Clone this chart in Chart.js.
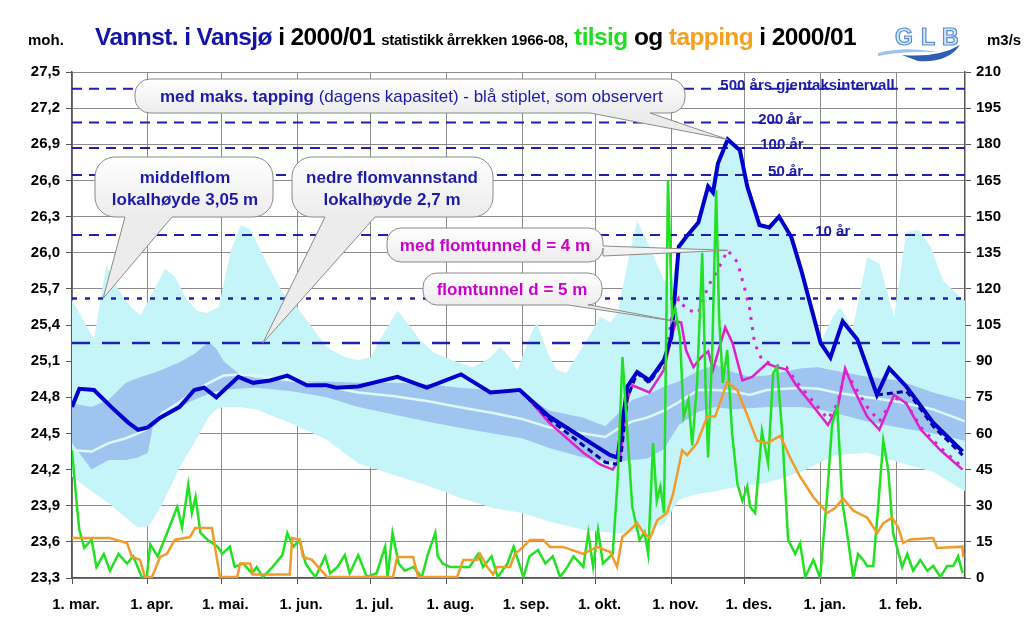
<!DOCTYPE html>
<html>
<head>
<meta charset="utf-8">
<script src="https://cdn.jsdelivr.net/npm/chart.js@4.4.1/dist/chart.umd.min.js"></script>
<style>
  body { margin: 0; background: #fff; }
  #wrap { position: relative; width: 1024px; height: 636px; }
  .lbl { position: absolute; font-family: "Liberation Sans", Arial, sans-serif; font-weight: bold; white-space: nowrap; }
</style>
</head>
<body>
<div id="wrap">
  <canvas id="chart" width="1024" height="636"></canvas>
  <div class="lbl" style="left:28px;top:31px;font-size:15px;">moh.</div>
  <div class="lbl" style="left:95px;top:23px;font-size:24.5px;letter-spacing:-0.6px;">
    <span style="color:#1414a8">Vannst. i Vansjø</span> i 2000/01 <span style="font-size:15px;letter-spacing:-0.3px">statistikk årrekken 1966-08,</span>
    <span style="color:#22dd22">tilsig</span> og <span style="color:#f5a020">tapping</span> i 2000/01
  </div>
  <div class="lbl" style="left:987px;top:31px;font-size:15px;">m3/s</div>
</div>
<script>
// x = days after 1. mars
const monthStarts = [0, 31, 61, 92, 122, 153, 184, 214, 245, 275, 306, 337];
const monthLabels = ["1. mar.", "1. apr.", "1. mai.", "1. jun.", "1. jul.", "1. aug.", "1. sep.", "1. okt.", "1. nov.", "1. des.", "1. jan.", "1. feb."];
const levelTicks = [23.3, 23.6, 23.9, 24.2, 24.5, 24.8, 25.1, 25.4, 25.7, 26.0, 26.3, 26.6, 26.9, 27.2, 27.5];
const flowTicks = [0, 15, 30, 45, 60, 75, 90, 105, 120, 135, 150, 165, 180, 195, 210];

const returnLevels = [27.36, 27.08, 26.87, 26.645, 26.147];
const returnLabels = ["500 års gjentaksintervall", "200 år", "100 år", "50 år", "10 år"];
const middelflom = 25.62;
const nedreFlomvannstand = 25.25;

// statistics 1966-08
const bandDays = [0, 8, 15, 22, 27, 31, 33, 37, 44, 50, 56, 59, 62, 68, 75, 90, 104, 117, 131, 145, 158, 172, 184, 195, 209, 218, 224, 229, 235, 242, 248, 256, 263, 270, 277, 284, 298, 305, 312, 325, 338, 352, 365];
const bandMin = [24.14, 24.02, 23.92, 23.80, 23.72, 23.73, 23.78, 23.92, 24.22, 24.42, 24.64, 24.70, 24.72, 24.72, 24.70, 24.58, 24.45, 24.25, 24.16, 24.07, 23.97, 23.88, 23.84, 23.77, 23.70, 23.68, 23.67, 23.68, 23.70, 23.75, 23.95, 24.00, 24.02, 24.05, 24.07, 24.09, 24.18, 24.25, 24.32, 24.34, 24.26, 24.18, 24.02];
const bandLow = [24.42, 24.20, 24.28, 24.28, 24.30, 24.34, 24.55, 24.63, 24.72, 24.78, 24.83, 24.85, 24.86, 24.87, 24.88, 24.85, 24.80, 24.72, 24.66, 24.60, 24.55, 24.50, 24.46, 24.38, 24.30, 24.27, 24.27, 24.28, 24.29, 24.37, 24.57, 24.68, 24.72, 24.70, 24.71, 24.72, 24.72, 24.70, 24.67, 24.60, 24.55, 24.50, 24.44];
const bandMedian = [24.36, 24.35, 24.42, 24.46, 24.50, 24.54, 24.58, 24.67, 24.76, 24.85, 24.92, 24.95, 24.98, 24.99, 24.98, 24.94, 24.89, 24.84, 24.81, 24.77, 24.72, 24.67, 24.62, 24.55, 24.50, 24.47, 24.55, 24.60, 24.63, 24.69, 24.76, 24.86, 24.86, 24.85, 24.82, 24.86, 24.88, 24.87, 24.84, 24.80, 24.76, 24.70, 24.60];
const bandHigh = [24.75, 24.72, 24.78, 24.92, 24.96, 24.99, 25.00, 25.03, 25.09, 25.16, 25.26, 25.20, 25.10, 25.00, 24.96, 24.93, 24.93, 24.92, 24.92, 24.91, 24.88, 24.86, 24.83, 24.69, 24.63, 24.56, 24.68, 24.78, 24.82, 24.89, 24.93, 25.02, 25.07, 25.01, 24.97, 24.98, 25.04, 25.05, 25.02, 24.97, 24.94, 24.84, 24.77];
const maxDays = [0, 9, 14, 19, 24, 28, 33, 38, 42, 47, 51, 55, 60, 65, 69, 73, 77, 81, 86, 92, 96, 100, 104, 108, 112, 117, 122, 126, 133, 137, 142, 148, 155, 164, 171, 175, 179, 182, 187, 190, 194, 198, 202, 206, 212, 216, 220, 223, 227, 231, 236, 242, 245, 248, 251, 256, 260, 264, 268, 273, 276, 281, 285, 289, 294, 298, 306, 311, 314, 319, 325, 330, 336, 341, 346, 351, 356, 363, 365];
const bandMax = [25.61, 25.28, 25.90, 25.69, 25.55, 25.48, 25.67, 25.87, 25.80, 25.61, 25.52, 25.50, 25.55, 26.02, 26.23, 26.19, 26.02, 25.86, 25.67, 25.55, 25.44, 25.33, 25.22, 25.17, 25.13, 25.11, 25.13, 25.28, 25.52, 25.42, 25.28, 25.17, 25.11, 25.05, 25.13, 25.22, 25.13, 25.02, 25.30, 25.42, 25.19, 25.03, 25.00, 25.13, 25.33, 25.47, 25.42, 25.50, 25.90, 26.27, 26.05, 25.77, 25.75, 26.05, 26.13, 26.25, 26.55, 26.74, 26.94, 26.85, 26.55, 26.23, 26.21, 26.30, 26.13, 25.86, 25.25, 25.47, 25.55, 25.36, 25.96, 25.91, 25.47, 26.17, 26.19, 26.05, 25.77, 25.63, 25.60];

// 2000/01
const obsDays = [0, 3, 9, 16, 23, 27, 31, 36, 44, 50, 54, 59, 68, 74, 81, 88, 96, 104, 108, 117, 133, 145, 159, 171, 183, 195, 209, 220, 223, 227, 231, 236, 242, 245, 248, 251, 256, 260, 262, 264, 268, 273, 276, 281, 285, 289, 294, 298, 306, 310, 315, 321, 329, 334, 341, 352, 364];
const obsLevel = [24.72, 24.87, 24.86, 24.72, 24.59, 24.53, 24.55, 24.63, 24.72, 24.86, 24.88, 24.80, 24.97, 24.92, 24.94, 24.98, 24.90, 24.90, 24.88, 24.89, 24.97, 24.88, 24.99, 24.84, 24.86, 24.64, 24.46, 24.32, 24.30, 24.89, 25.01, 24.94, 25.11, 25.30, 26.05, 26.13, 26.25, 26.55, 26.50, 26.74, 26.94, 26.85, 26.55, 26.23, 26.21, 26.30, 26.13, 25.86, 25.25, 25.13, 25.43, 25.28, 24.82, 25.04, 24.89, 24.59, 24.35];
const maksAutumnDays = [183, 195, 209, 218, 224, 227, 231, 236, 242];
const maksAutumnLevel = [24.86, 24.62, 24.40, 24.26, 24.24, 24.80, 25.00, 24.92, 25.10];
const maksWinterDays = [329, 341, 344, 352, 360, 364];
const maksWinterLevel = [24.82, 24.85, 24.78, 24.56, 24.40, 24.32];
const tunnel5Days = [183, 186, 195, 209, 216, 221, 224, 227, 229, 236, 242, 245, 247, 249, 251, 254, 257, 260, 262, 267, 270, 274, 278, 284, 288, 292, 296, 300, 309, 313, 316, 319, 325, 330, 336, 341, 347, 355, 364];
const tunnel5Level = [24.86, 24.80, 24.59, 24.34, 24.24, 24.20, 24.30, 24.78, 24.90, 24.84, 25.03, 25.30, 25.43, 25.42, 25.19, 25.05, 25.13, 25.18, 25.03, 25.38, 25.25, 24.94, 24.97, 25.08, 25.05, 25.03, 24.90, 24.80, 24.57, 24.72, 25.04, 24.89, 24.64, 24.53, 24.82, 24.75, 24.53, 24.36, 24.20];
const tunnel4Days = [242, 245, 248, 251, 256, 260, 264, 268, 272, 275, 277, 279, 282, 288, 292, 296, 309, 313, 316, 319, 325, 330, 336, 341, 347, 355, 364];
const tunnel4Level = [25.03, 25.45, 25.62, 25.53, 25.50, 25.72, 25.86, 26.02, 25.92, 25.70, 25.53, 25.25, 25.11, 25.06, 25.05, 24.93, 24.62, 24.75, 25.02, 24.92, 24.72, 24.60, 24.80, 24.75, 24.55, 24.38, 24.22];

const tilsigDays = [0, 2, 3, 5, 8, 10, 13, 15.5, 19, 22.5, 25, 28.5, 30.5, 32, 35, 39, 43, 45, 47.5, 49, 50.5, 52.5, 55.5, 59.5, 61.5, 64.5, 66.5, 70, 73.5, 75.5, 78, 82, 86, 88, 90.5, 93, 95.5, 97.5, 99.5, 103.5, 105.5, 108.5, 111.5, 113.5, 117, 120.5, 124.5, 128, 129, 131, 133.5, 136, 139.5, 143, 145.5, 148.5, 149.5, 151.5, 154.5, 158.5, 162.5, 166, 168, 171.5, 174, 178, 180.5, 184.5, 187, 190.5, 193.5, 196.5, 199.5, 202.5, 205, 209, 211, 213, 215, 217, 221, 223, 225, 227, 229, 232, 234, 235.5, 237.5, 239, 240.5, 242, 243.6, 245.3, 246.5, 248.5, 250, 252, 253.5, 255.5, 257.6, 259, 260, 261.7, 263.3, 264.5, 266, 267.8, 269.8, 272, 274, 276, 277.2, 279.2, 282, 283.3, 284.5, 286.6, 288.2, 290.3, 292.7, 295.6, 297.6, 299.7, 303, 305.8, 308.7, 310.7, 312.8, 314.8, 316.8, 319.3, 321.3, 323.4, 325, 327.5, 329.5, 331.6, 333.6, 335.6, 339.3, 341.4, 343.8, 346.7, 349.6, 352, 354.9, 357.7, 360.2, 362.2, 364];
const tilsigFlow = [53, 30, 20, 12.5, 16, 4.5, 10, 3, 10, 6, 9, 0.5, 0, 14, 9, 19, 29.5, 21, 38.6, 27, 33.6, 18.7, 15.8, 13, 10, 13, 4.6, 6, 2, 4.6, 0.4, 4.6, 9.5, 18.7, 13, 15.8, 6, 3, 0.4, 9, 2, 4.6, 9.5, 2, 9.5, 0.4, 2, 13, 0.4, 18.7, 6, 3, 4.6, 0.4, 10, 18.7, 9, 6, 4.6, 4.6, 4.6, 10, 4.6, 9, 0.4, 6, 13, 0.4, 9, 11.6, 6, 9, 0.4, 4.6, 9, 4.6, 18.7, 4.6, 20, 6, 10, 40, 91.7, 60, 29.5, 15.8, 19, 10, 56, 32, 38, 27, 165, 108, 112, 100, 67, 74, 55, 81, 135, 78, 50, 95, 161, 108, 81, 94.6, 60, 39, 32, 38, 29.5, 27, 61, 54, 47.7, 85, 87.6, 60, 15.8, 10, 14.5, 0.4, 7.5, 0, 35, 64, 71, 32, 18.7, 0.4, 10, 7.5, 5, 5, 29.5, 57, 45, 18.7, 4.6, 10, 3, 7.5, 3, 5, 0.4, 5, 5, 9, 2];
const tappingDays = [0, 15.5, 22.5, 24.5, 27.8, 29.8, 32.7, 36, 38.8, 42, 48.2, 50.3, 57.2, 59.3, 60.5, 67.5, 68.7, 72.8, 74, 89, 90, 93.2, 94.4, 98.1, 100.6, 104.3, 131.2, 132.9, 139.4, 141.5, 157.4, 159.9, 165.6, 166.8, 169.7, 172.1, 173.8, 179, 181.1, 184.4, 187.2, 192.6, 195.4, 200.7, 208.9, 214.6, 220, 222.8, 224.9, 226.9, 231, 233.4, 236.3, 239.2, 243.2, 245.7, 249.4, 251.4, 255.5, 259.6, 262.9, 267.8, 271.9, 276, 280, 284.1, 289.5, 293.5, 297.6, 303, 308.7, 311.9, 315.2, 319.3, 325, 329.1, 331.6, 335.2, 337.7, 339.7, 342.6, 352, 353.6, 363.9, 364.3];
const tappingFlow = [16.6, 16.6, 14.5, 8.7, 7.5, 0.4, 0.4, 8.7, 10, 15.8, 17, 20.7, 20.7, 7.5, 0.4, 0.4, 6, 6, 1.5, 1.5, 16.6, 15.8, 8.7, 7.5, 4.6, 0.4, 0.4, 8.7, 8.7, 0.4, 0.4, 7.5, 7.5, 10, 4.6, 1.5, 4.6, 4.6, 10, 12.9, 15.8, 15.8, 12.9, 12.9, 10, 12.9, 10.8, 4.6, 17, 18.7, 22.8, 19, 16.6, 24, 27, 35, 53, 51, 56, 67, 67, 81.3, 78, 67.6, 57, 56, 59, 50, 42, 33.6, 27, 29, 33, 28, 25, 18.7, 22.8, 25, 21, 14.5, 16, 16.6, 12.5, 13, 8.7];

const FONT = '"Liberation Sans", Arial, sans-serif';
const NAVY = "#1c1ca8";
const pts = (xs, ys) => xs.map((x, i) => ({ x, y: ys[i] }));
const flat = v => [{ x: 0, y: v }, { x: 365, y: v }];

const line = (data, color, width, order, extra) => Object.assign({
  data, borderColor: color, borderWidth: width, pointRadius: 0, pointHitRadius: 0,
  fill: false, tension: 0, yAxisID: "y", order
}, extra || {});

const datasets = [
  line(pts(bandDays, bandMin), "transparent", 0, 30),
  line(pts(maxDays, bandMax), "transparent", 0, 29, { fill: "-1", backgroundColor: "#c6f5f9" }),
  line(pts(bandDays, bandLow), "transparent", 0, 28),
  line(pts(bandDays, bandHigh), "transparent", 0, 27, { fill: "-1", backgroundColor: "#9fc4ef" }),
  line(pts(bandDays, bandMedian), "#dcf8fb", 2.5, 26),
  ...returnLevels.map(v => line(flat(v), "#2020b0", 2, 20, { borderDash: [10, 7] })),
  line(flat(middelflom), "#2020b0", 2.5, 20, { borderDash: [5, 8] }),
  line(flat(nedreFlomvannstand), "#2020b0", 2.5, 20, { borderDash: [18, 12] }),
  line(pts(tunnel4Days, tunnel4Level), "#dd22cc", 3, 9, { borderDash: [3, 7] }),
  line(pts(tunnel5Days, tunnel5Level), "#dd22cc", 2.5, 8),
  line(pts(maksAutumnDays, maksAutumnLevel), "#0000a8", 3, 7, { borderDash: [6, 4] }),
  line(pts(maksWinterDays, maksWinterLevel), "#0000a8", 3, 7, { borderDash: [6, 4] }),
  line(pts(obsDays, obsLevel), "#0000cc", 4, 5),
  line(pts(tilsigDays, tilsigFlow), "#22e022", 2.5, 3, { yAxisID: "y2" }),
  line(pts(tappingDays, tappingFlow), "#f29a2a", 2.5, 2, { yAxisID: "y2" })
];

// annotations: return-period labels and speech bubbles
const returnLabelDays = [265, 280.5, 281.3, 284.5, 303.8];
const peakIdx = obsLevel.indexOf(Math.max(...obsLevel));
const peak4Idx = tunnel4Level.indexOf(Math.max(...tunnel4Level));
const callouts = [
  { box: [135, 79, 550, 34], r: 15, edge: "bottom", base: [590, 650], tip: [obsDays[peakIdx], obsLevel[peakIdx]],
    color: NAVY, lines: [[["bold", "med maks. tapping"], ["normal", " (dagens kapasitet) - blå stiplet, som observert"]]], tx: 160, ty: [102] },
  { box: [95, 157, 178, 60], r: 20, edge: "bottom", base: [125, 172], tip: [12.7, middelflom],
    color: NAVY, lines: [[["bold", "middelflom"]], [["bold", "lokalhøyde 3,05 m"]]], cx: 185, ty: [183, 205] },
  { box: [292, 157, 201, 60], r: 20, edge: "bottom", base: [325, 375], tip: [78, nedreFlomvannstand],
    color: NAVY, lines: [[["bold", "nedre flomvannstand"]], [["bold", "lokalhøyde 2,7 m"]]], cx: 392, ty: [183, 205] },
  { box: [387, 228, 216, 34], r: 14, edge: "right", base: [246, 256], tip: [tunnel4Days[peak4Idx], tunnel4Level[peak4Idx]],
    color: "#cc00cc", lines: [[["bold", "med flomtunnel d = 4 m"]]], cx: 495, ty: [251] },
  { box: [423, 273, 179, 32], r: 14, edge: "bottom", base: [568, 590], tip: [247, 25.43],
    color: "#cc00cc", lines: [[["bold", "flomtunnel d = 5 m"]]], cx: 512, ty: [295] }
];

function bubblePath(ctx, c, tip) {
  const [bx, by, bw, bh] = c.box, r = c.r;
  ctx.beginPath();
  ctx.moveTo(bx + r, by);
  ctx.lineTo(bx + bw - r, by);
  ctx.arcTo(bx + bw, by, bx + bw, by + r, r);
  if (c.edge === "right") {
    ctx.lineTo(bx + bw, c.base[0]);
    ctx.lineTo(tip[0], tip[1]);
    ctx.lineTo(bx + bw, c.base[1]);
  }
  ctx.lineTo(bx + bw, by + bh - r);
  ctx.arcTo(bx + bw, by + bh, bx + bw - r, by + bh, r);
  if (c.edge === "bottom") {
    ctx.lineTo(c.base[1], by + bh);
    ctx.lineTo(tip[0], tip[1]);
    ctx.lineTo(c.base[0], by + bh);
  }
  ctx.lineTo(bx + r, by + bh);
  ctx.arcTo(bx, by + bh, bx, by + bh - r, r);
  ctx.lineTo(bx, by + r);
  ctx.arcTo(bx, by, bx + r, by, r);
  ctx.closePath();
}

const overlay = {
  id: "overlay",
  afterDatasetsDraw(chart) {
    const { ctx, scales: { x, y } } = chart;
    ctx.save();
    ctx.font = "bold 15px " + FONT;
    ctx.fillStyle = NAVY;
    ctx.textAlign = "left";
    ctx.textBaseline = "alphabetic";
    returnLabels.forEach((t, i) => {
      ctx.fillText(t, x.getPixelForValue(returnLabelDays[i]), y.getPixelForValue(returnLevels[i]) + 1);
    });

    callouts.forEach(c => {
      const tip = [x.getPixelForValue(c.tip[0]), y.getPixelForValue(c.tip[1])];
      bubblePath(ctx, c, tip);
      const g = ctx.createLinearGradient(0, c.box[1], 0, c.box[1] + c.box[3]);
      g.addColorStop(0, "#ffffff");
      g.addColorStop(1, "#ececec");
      ctx.fillStyle = g;
      ctx.fill();
      ctx.strokeStyle = "#8a8a8a";
      ctx.lineWidth = 1;
      ctx.stroke();
      ctx.fillStyle = c.color;
      c.lines.forEach((runs, li) => {
        const widths = runs.map(([w, t]) => { ctx.font = w + " 17px " + FONT; return ctx.measureText(t).width; });
        const total = widths.reduce((a, b) => a + b, 0);
        let px = c.tx !== undefined ? c.tx : c.cx - total / 2;
        runs.forEach(([w, t], k) => {
          ctx.font = w + " 17px " + FONT;
          ctx.fillText(t, px, c.ty[li]);
          px += widths[k];
        });
      });
    });
    ctx.restore();
  },
  afterDraw(chart) {
    const ctx = chart.ctx;
    ctx.save();
    // GLB logo
    ctx.font = "bold 23px " + FONT;
    ctx.textBaseline = "alphabetic";
    ctx.fillStyle = "#d2e6f7";
    ctx.strokeStyle = "#5a8fd2";
    ctx.lineWidth = 1.2;
    [["G", 895], ["L", 921], ["B", 942]].forEach(([t, px]) => {
      ctx.fillText(t, px, 45);
      ctx.strokeText(t, px, 45);
    });
    ctx.fillStyle = "#9cc2ee";
    ctx.beginPath();
    ctx.moveTo(878, 53);
    ctx.quadraticCurveTo(905, 46, 938, 52);
    ctx.quadraticCurveTo(905, 51, 878, 56);
    ctx.closePath();
    ctx.fill();
    ctx.fillStyle = "#2c5fb4";
    ctx.beginPath();
    ctx.moveTo(902, 55);
    ctx.quadraticCurveTo(938, 58, 960, 45);
    ctx.quadraticCurveTo(948, 63, 918, 61);
    ctx.quadraticCurveTo(910, 58, 902, 55);
    ctx.closePath();
    ctx.fill();
    ctx.restore();
  }
};

const tickFont = { family: FONT, size: 15, weight: "bold" };

new Chart(document.getElementById("chart"), {
  type: "line",
  data: { datasets },
  options: {
    responsive: false,
    animation: false,
    events: [],
    layout: { padding: { top: 72, left: 0, right: 0, bottom: 0 } },
    plugins: { legend: { display: false }, tooltip: { enabled: false } },
    scales: {
      x: {
        type: "linear", min: 0, max: 365,
        afterBuildTicks: s => { s.ticks = monthStarts.map(v => ({ value: v })); },
        afterFit: s => { s.height = 58; },
        ticks: {
          callback: v => monthLabels[monthStarts.indexOf(v)],
          font: tickFont, color: "#000", padding: 12, labelOffset: 4,
          maxRotation: 0, autoSkip: false
        },
        grid: { color: "#8c8c8c", tickColor: "#555", tickLength: 6, lineWidth: 1 },
        border: { color: "#555", width: 1.5 }
      },
      y: {
        position: "left", min: 23.3, max: 27.5,
        afterBuildTicks: s => { s.ticks = levelTicks.map(v => ({ value: v })); },
        afterFit: s => { s.width = 72; },
        ticks: { callback: v => v.toFixed(1).replace(".", ","), font: tickFont, color: "#000", padding: 6 },
        grid: { color: "#8c8c8c", tickColor: "#555", tickLength: 6, lineWidth: 1 },
        border: { color: "#555", width: 1.5 }
      },
      y2: {
        position: "right", min: 0, max: 210,
        afterBuildTicks: s => { s.ticks = flowTicks.map(v => ({ value: v })); },
        afterFit: s => { s.width = 59; },
        ticks: { font: tickFont, color: "#000", padding: 5 },
        grid: { drawOnChartArea: false, tickColor: "#555", tickLength: 6 },
        border: { color: "#555", width: 1.5 }
      }
    }
  },
  plugins: [overlay]
});
</script>
</body>
</html>
